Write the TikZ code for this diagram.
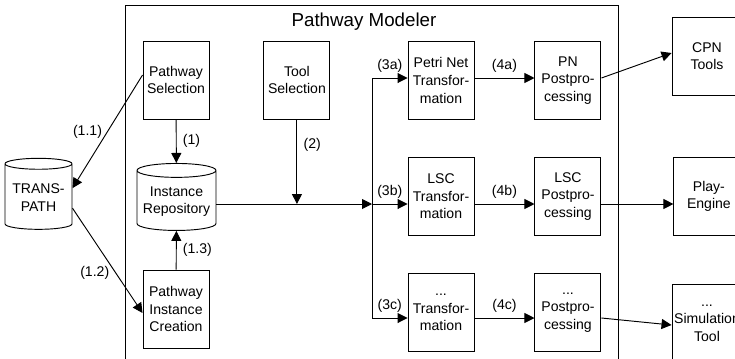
\documentclass[tikz,border=0pt]{standalone}
\usepackage{fontspec}
\setmainfont{Liberation Sans}
\usetikzlibrary{arrows.meta,positioning,shapes.geometric}

\begin{document}
\begin{tikzpicture}[
    x=0.03cm, y=-0.03cm,
    node distance=1.11cm and 1.8cm,
    font=\fontsize{12}{15}\selectfont,
    box/.style={draw, line width=0.8pt, minimum width=1.98cm, minimum height=2.34cm, align=center, inner sep=1pt},
    tool/.style={box, minimum width=2.1cm},
    db/.style={draw, line width=0.8pt, cylinder, shape border rotate=90, aspect=0.2, align=center, inner sep=1pt},
    arr/.style={-{Triangle[length=0.3cm, width=0.3cm]}, line width=0.8pt},
    line/.style={line width=0.8pt}
]
\useasboundingbox (0,0) rectangle (735,358);
\clip (0,0) rectangle (735,358);

% modeler frame
\draw[line] (125,370) -- (125,5) -- (618,5) -- (618,370);
\node[font=\fontsize{16}{19}\selectfont] (title) at (364,22) {Pathway Modeler};

% left part
\node[db, minimum width=2.01cm, minimum height=2.13cm] (tp) at (38.5,197.5) {TRANS-\\PATH};
\node[box] (psel) at (176,80) {Pathway\\Selection};
\node[box, right=1.62cm of psel] (tsel) {Tool\\Selection};
\node[db, minimum width=2.37cm, minimum height=2.01cm] (repo) at (176.5,201.5) {Instance\\Repository};
\node[box] (creat) at (176,309) {Pathway\\Instance\\Creation};

% transformations
\node[box] (pnt) at (441,80.5) {Petri Net\\Transfor-\\mation};
\node[box, right=of pnt] (pnp) {PN\\Postpro-\\cessing};
\node[box, below=of pnt] (lsct) {LSC\\Transfor-\\mation};
\node[box, right=of lsct] (lscp) {LSC\\Postpro-\\cessing};
\node[box, below=of lsct] (dott) {...\\Transfor-\\mation};
\node[box, right=of dott] (dotp) {...\\Postpro-\\cessing};

% tools
\node[tool] (cpn) at (707,56) {CPN\\Tools};
\node[tool, right=2.16cm of lscp] (play) {Play-\\Engine};
\node[tool] (sim) at (707,323) {...\\Simulation\\Tool};

\coordinate (j) at (372,204);
\coordinate (ja) at (372,78);
\coordinate (jc) at (372,318);

\draw[arr] (psel) -- (repo) node[midway, right=2pt] {(1)};
\draw[arr] ([yshift=0.15cm]psel.west) -- ([yshift=0.28cm]tp.east) node[midway, left=1pt] {(1.1)};
\draw[arr] ([yshift=-0.32cm]tp.east) -- ([yshift=-0.12cm]creat.west) node[pos=0.62, left=2pt] {(1.2)};
\draw[arr] (creat) -- (repo) node[midway, right=2pt] {(1.3)};
\draw[arr] (repo.east |- j) -- (j);
\draw[arr] (tsel.south) -- (tsel.south |- j) node[pos=0.3, right=2pt] {(2)};
\draw[line] (ja) -- (jc);

\draw[arr] (ja) -- (pnt.west |- ja) node[midway, above=1pt] {(3a)};
\draw[arr] (j) -- (lsct.west |- j) node[midway, above=1pt] {(3b)};
\draw[arr] (jc) -- (dott.west |- jc) node[midway, above=1pt] {(3c)};
\draw[arr] (pnt.east |- ja) -- (pnp.west |- ja) node[midway, above=1pt] {(4a)};
\draw[arr] (lsct.east |- j) -- (lscp.west |- j) node[midway, above=1pt] {(4b)};
\draw[arr] (dott.east |- jc) -- (dotp.west |- jc) node[midway, above=1pt] {(4c)};

\draw[arr] (pnp.east |- ja) -- ([yshift=0.09cm]cpn.west);
\draw[arr] (lscp.east |- j) -- (play.west |- j);
\draw[arr] (dotp.east |- jc) -- ([yshift=-0.06cm]sim.west);
\end{tikzpicture}
\end{document}
